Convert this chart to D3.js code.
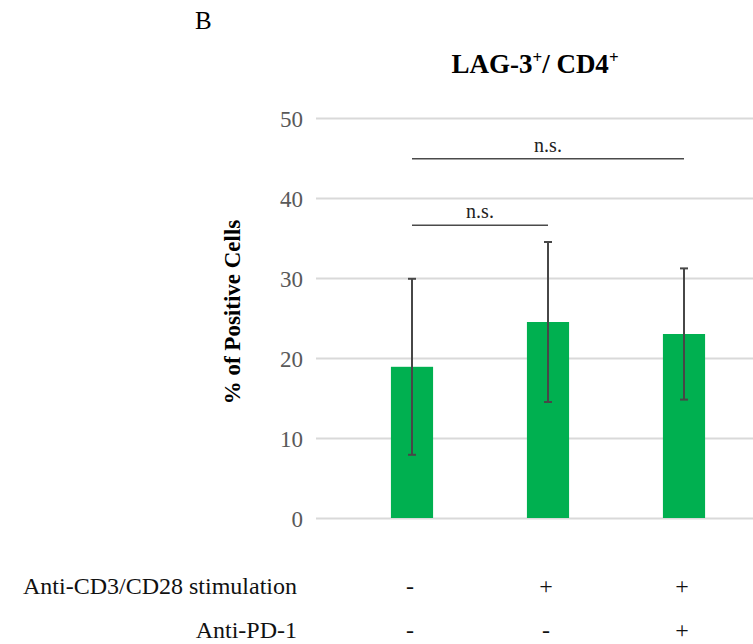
<!DOCTYPE html>
<html lang="en">
<head>
<meta charset="UTF-8">
<title>LAG-3+/ CD4+</title>
<style>
  body { margin:0; background:#fff; }
  svg { display:block; }
  svg text { font-family:"Liberation Serif", Tinos, "Times New Roman", Times, "DejaVu Serif", serif; }
  .grid line { stroke:#d9d9d9; stroke-width:2; }
  .tick text { fill:#595959; font-size:23px; }
</style>
</head>
<body>
<svg id="chart" width="753" height="644"></svg>
<script src="https://cdn.jsdelivr.net/npm/d3@7"></script>
<script>
// groups and values
var groups = ['ctrl', 'stim', 'stim+pd1'];
var means = [18.9, 24.5, 23.0];
var errs = [11.0, 10.0, 8.2];
var yTicks = [0, 10, 20, 30, 40, 50];
var stimRow = ['-', '+', '+'];
var pd1Row = ['-', '-', '+'];
var sigFrom = [0, 0];
var sigTo = [1, 2];
var sigLevel = [36.6, 44.9];
var sigText = ['n.s.', 'n.s.'];

var svg = d3.select('#chart');

var y = d3.scaleLinear().domain([0, 50]).range([518, 118]);
var x = d3.scaleBand().domain(groups).range([344, 752])
  .paddingInner(0.69).paddingOuter(0.345);
var cx = function(i){ return x(groups[i]) + x.bandwidth()/2; };

// gridlines + tick labels
var yAxis = d3.axisLeft(y).tickValues(yTicks).tickSize(-437).tickPadding(13);
var g = svg.append('g').attr('class','grid').attr('transform','translate(316,0)').call(yAxis);
g.select('.domain').remove();
g.selectAll('.tick text').attr('dy','0.36em');

// bars
svg.append('g').selectAll('rect')
  .data(means)
  .enter().append('rect')
  .attr('x', (d,i) => x(groups[i]))
  .attr('width', x.bandwidth())
  .attr('y', d => y(d))
  .attr('height', d => y(0) - y(d))
  .attr('fill', '#00b050');

// error bars
var eb = svg.append('g').attr('stroke','#474747').attr('stroke-width',2);
means.forEach(function(m, i){
  var c = cx(i);
  eb.append('line').attr('x1',c).attr('x2',c).attr('y1',y(m+errs[i])).attr('y2',y(m-errs[i]));
  eb.append('line').attr('x1',c-4).attr('x2',c+4).attr('y1',y(m+errs[i])).attr('y2',y(m+errs[i]));
  eb.append('line').attr('x1',c-4).attr('x2',c+4).attr('y1',y(m-errs[i])).attr('y2',y(m-errs[i]));
});

// significance lines
sigLevel.forEach(function(v, k){
  var a = cx(sigFrom[k]), b = cx(sigTo[k]);
  svg.append('line').attr('x1',a).attr('x2',b).attr('y1',y(v)).attr('y2',y(v))
    .attr('stroke','#4a4a4a').attr('stroke-width',1.5);
  svg.append('text').attr('x',(a+b)/2).attr('y',y(v)-7)
    .attr('text-anchor','middle').attr('font-size',20).attr('fill','#222')
    .text(sigText[k]);
});

// title
var t = svg.append('text').attr('x',535).attr('y',73).attr('text-anchor','middle')
  .attr('font-size',27).attr('font-weight','bold').attr('fill','#000');
t.append('tspan').text('LAG-3');
t.append('tspan').attr('font-size',17).attr('dy',-10).text('+');
t.append('tspan').attr('dy',10).text('/ CD4');
t.append('tspan').attr('font-size',17).attr('dy',-10).text('+');

// panel letter
svg.append('text').attr('x',195).attr('y',29).attr('font-size',25).attr('fill','#000').text('B');

// y axis title
svg.append('text').attr('transform','translate(240,312) rotate(-90)')
  .attr('text-anchor','middle').attr('font-size',23).attr('font-weight','bold')
  .attr('fill','#000').text('% of Positive Cells');

// treatment rows
var rows = [
  {label:'Anti-CD3/CD28 stimulation', signs:stimRow, y:594},
  {label:'Anti-PD-1', signs:pd1Row, y:638}
];
rows.forEach(function(r){
  svg.append('text').attr('x',297).attr('y',r.y).attr('text-anchor','end')
    .attr('font-size',24).attr('fill','#111').text(r.label);
  svg.append('g').selectAll('text').data(r.signs).enter().append('text')
    .attr('x', (d,i) => cx(i) - 2)
    .attr('y', r.y)
    .attr('text-anchor','middle').attr('font-size',24).attr('fill','#111')
    .text(d => d);
});
</script>
</body>
</html>
